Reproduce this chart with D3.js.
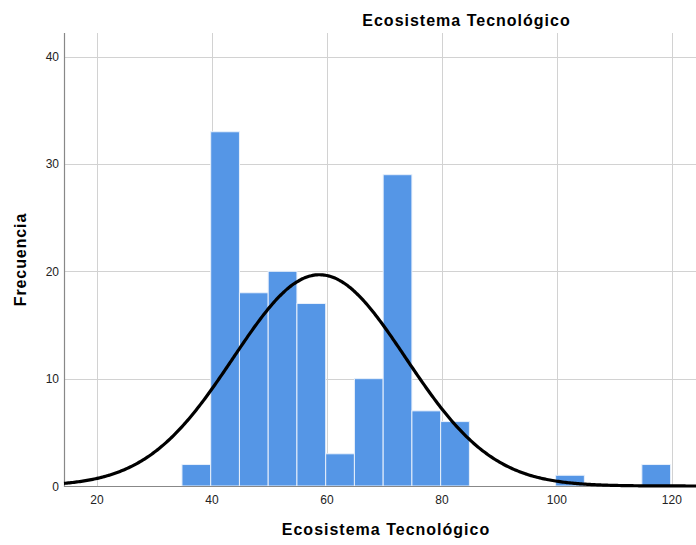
<!DOCTYPE html>
<html><head><meta charset="utf-8">
<script src="https://cdn.jsdelivr.net/npm/d3@7"></script>
<style>body{margin:0;background:#fff}svg{display:block;font-family:"Liberation Sans",Arial,sans-serif}</style>
</head><body><svg id="c" width="696" height="545"></svg>
<script>
// Data
const binStarts = [35,40,45,50,55,60,65,70,75,80,100,115];
const counts    = [2,33,18,20,17,3,10,29,7,6,1,2];
const binWidth = 5;
const binShift = -0.22;
const xTicks = [20,40,60,80,100,120];
const yTicks = [0,10,20,30,40];
const normalMean = 58.7, normalSd = 15.0;
const title = "Ecosistema Tecnológico";
const xLabel = "Ecosistema Tecnológico";
const yLabel = "Frecuencia";

const svg = d3.select("#c");
const L=64, R=696, T=33, B=486;
const x = d3.scaleLinear().domain([14.26,124.2]).range([L,R]);
const y = d3.scaleLinear().domain([0,42.2]).range([B,T]);
const N = d3.sum(counts);

// grid
svg.append("g").selectAll("line").data(xTicks).join("line")
  .attr("x1",d=>Math.round(x(d))+0.5).attr("x2",d=>Math.round(x(d))+0.5)
  .attr("y1",T).attr("y2",B).attr("stroke","#d2d2d2").attr("stroke-width",1);
svg.append("g").selectAll("line").data(yTicks.filter(d=>d>0)).join("line")
  .attr("x1",L).attr("x2",R)
  .attr("y1",d=>Math.round(y(d))+0.5).attr("y2",d=>Math.round(y(d))+0.5)
  .attr("stroke","#d2d2d2").attr("stroke-width",1);

// bars
svg.append("g").selectAll("rect").data(binStarts.map((s,i)=>({s:s+binShift,c:counts[i]}))).join("rect")
  .attr("x",d=>x(d.s)).attr("width",d=>x(d.s+binWidth)-x(d.s))
  .attr("y",d=>y(d.c)).attr("height",d=>y(0)-y(d.c))
  .attr("fill","#5596e6").attr("stroke","#e8f0fb").attr("stroke-width",1);

// axes
svg.append("line").attr("x1",L+0.5).attr("x2",L+0.5).attr("y1",T).attr("y2",B+1).attr("stroke","#888").attr("stroke-width",1.2);
svg.append("line").attr("x1",L).attr("x2",R).attr("y1",B+0.5).attr("y2",B+0.5).attr("stroke","#888").attr("stroke-width",1.2);

// normal curve
const pts = d3.range(14.26,124.3,0.25);
const f = v => N*binWidth/(normalSd*Math.sqrt(2*Math.PI))*Math.exp(-0.5*((v-normalMean)/normalSd)**2);
svg.append("path").datum(pts)
  .attr("d",d3.line().x(d=>x(d)).y(d=>y(f(d))).curve(d3.curveBasis))
  .attr("fill","none").attr("stroke","#000").attr("stroke-width",3.2);

// tick labels
svg.append("g").selectAll("text").data(xTicks).join("text")
  .attr("x",d=>x(d)).attr("y",503.5).attr("text-anchor","middle")
  .attr("font-size",12).attr("fill","#222").text(d=>d);
svg.append("g").selectAll("text").data(yTicks).join("text")
  .attr("x",59).attr("y",d=>y(d)+4.5).attr("text-anchor","end")
  .attr("font-size",12).attr("fill","#222").text(d=>d);

// titles
svg.append("text").attr("x",466.5).attr("y",25.5).attr("text-anchor","middle")
  .attr("font-size",16).attr("font-weight","bold").attr("letter-spacing","1px").attr("fill","#000").text(title);
svg.append("text").attr("x",386).attr("y",535).attr("text-anchor","middle")
  .attr("font-size",16).attr("font-weight","bold").attr("letter-spacing","1px").attr("fill","#000").text(xLabel);
svg.append("text").attr("transform","translate(25.5,259.5) rotate(-90)").attr("text-anchor","middle")
  .attr("font-size",16).attr("font-weight","bold").attr("letter-spacing","0.9px").attr("fill","#000").text(yLabel);
</script></body></html>
